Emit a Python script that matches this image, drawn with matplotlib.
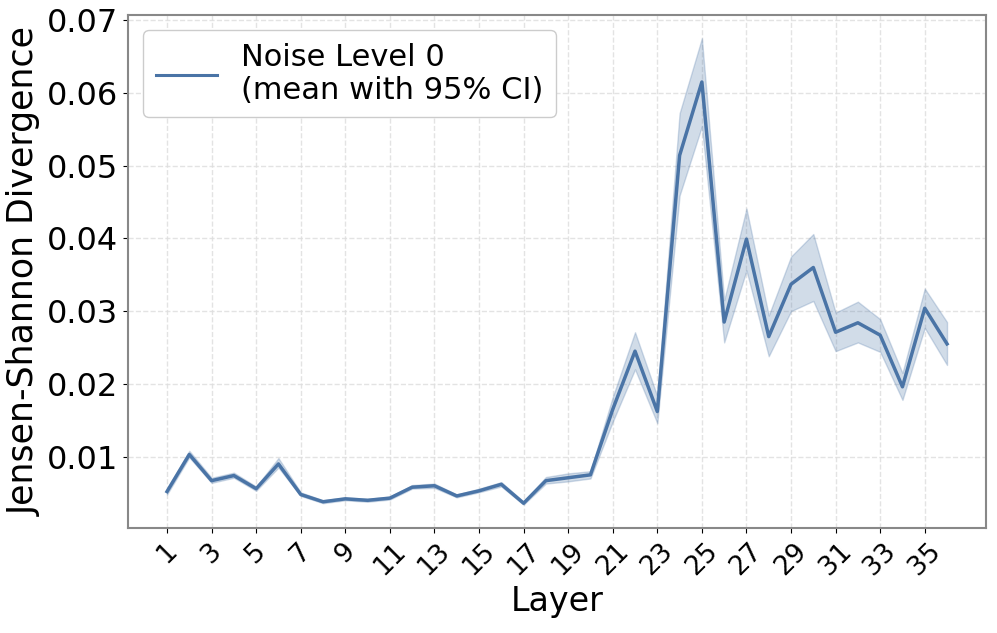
import numpy as np
import matplotlib
matplotlib.use("Agg")
import matplotlib.pyplot as plt

layers = list(range(1, 37))
mean_jsd = [0.0052, 0.0103, 0.0067, 0.0074, 0.0056, 0.0090, 0.0048, 0.0038, 0.0042, 0.0040,
            0.0043, 0.0058, 0.0060, 0.0046, 0.0053, 0.0062, 0.0036, 0.0067, 0.0071, 0.0075,
            0.0165, 0.0245, 0.0162, 0.0514, 0.0615, 0.0285, 0.0399, 0.0265, 0.0337, 0.0360,
            0.0271, 0.0284, 0.0267, 0.0196, 0.0304, 0.0255]
ci_low = [0.0048, 0.0099, 0.0064, 0.0071, 0.0053, 0.0085, 0.0046, 0.0036, 0.0040, 0.0038,
          0.0041, 0.0056, 0.0057, 0.0044, 0.0051, 0.0059, 0.0034, 0.0063, 0.0066, 0.0070,
          0.0148, 0.0220, 0.0146, 0.0459, 0.0554, 0.0257, 0.0356, 0.0238, 0.0300, 0.0314,
          0.0245, 0.0257, 0.0244, 0.0178, 0.0277, 0.0226]
ci_high = [0.0056, 0.0108, 0.0071, 0.0078, 0.0059, 0.0098, 0.0051, 0.0040, 0.0044, 0.0042,
           0.0045, 0.0061, 0.0063, 0.0048, 0.0056, 0.0065, 0.0038, 0.0072, 0.0077, 0.0080,
           0.0182, 0.0271, 0.0183, 0.0572, 0.0675, 0.0315, 0.0441, 0.0294, 0.0375, 0.0406,
           0.0298, 0.0313, 0.0289, 0.0215, 0.0331, 0.0285]
xtick_labels = [str(v) for v in range(1, 36, 2)]

color = "#4a74a6"

fig = plt.figure(figsize=(9.97, 6.33), dpi=100)
ax = fig.add_axes([0.1284, 0.1659, 0.8606, 0.8104])

ax.fill_between(layers, ci_low, ci_high, color=color, alpha=0.25, linewidth=1)
ax.plot(layers, mean_jsd, color=color, linewidth=2.5,
        label="Noise Level 0\n(mean with 95% CI)")

ax.set_xticks(range(1, 36, 2))
ax.set_xticklabels(xtick_labels, rotation=45, fontsize=19)
ax.tick_params(axis="y", labelsize=23)
ax.set_yticks([0.01, 0.02, 0.03, 0.04, 0.05, 0.06, 0.07])
ax.set_xlabel("Layer", fontsize=24)
ax.set_ylabel("Jensen-Shannon Divergence", fontsize=25)

ax.grid(True, linestyle="--", color="#dddddd", linewidth=1, alpha=0.8)
ax.set_axisbelow(True)
for sp in ax.spines.values():
    sp.set_color("#888888")
    sp.set_linewidth(1.5)

leg = ax.legend(loc="upper left", fontsize=22, framealpha=1.0, fancybox=True)
leg.get_frame().set_edgecolor("#cccccc")
for l in leg.get_lines():
    l.set_linewidth(2.2)

fig.savefig("out.png", dpi=100)
